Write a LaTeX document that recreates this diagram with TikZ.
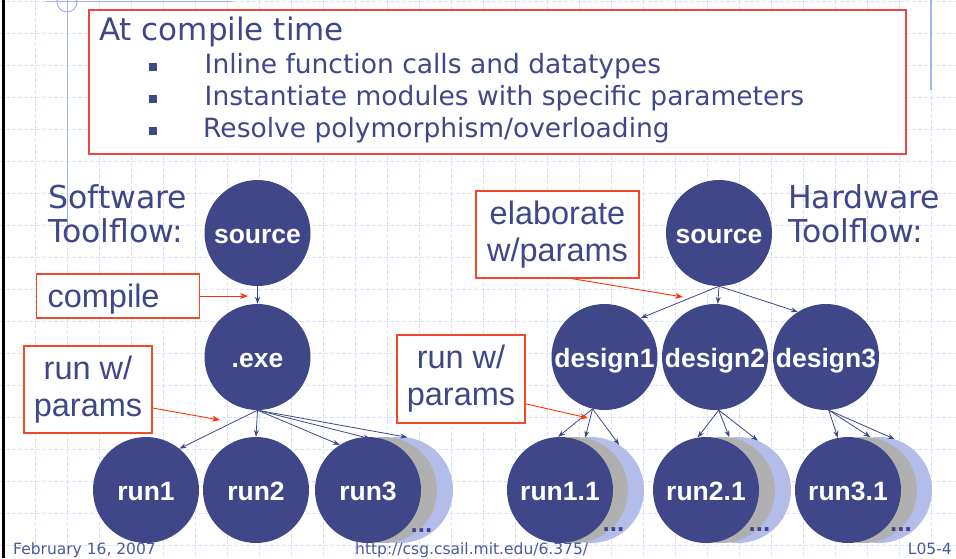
\documentclass[tikz,border=0pt]{standalone}
\usepackage{fontspec}
\setmainfont{DejaVu Sans}
\newfontfamily\circfont{Liberation Sans}
\usetikzlibrary{arrows.meta}
\definecolor{dblue}{HTML}{404789}
\definecolor{gridc}{HTML}{DAE1F9}
\definecolor{lineb}{HTML}{A3B3F2}
\definecolor{boxred}{HTML}{EE4646}
\definecolor{lblred}{HTML}{F04A2A}
\definecolor{arrred}{HTML}{FF3300}
\definecolor{shgray}{HTML}{B0B0B0}
\definecolor{shblue}{HTML}{B4BDEA}
\definecolor{foot}{HTML}{4A5A98}
\tikzset{
  gridline/.style={draw=gridc, line width=0.9pt, dash pattern=on 4pt off 2pt},
  circ/.style={circle, fill=dblue, minimum size=106pt, inner sep=0pt, text=white,
    font=\circfont\bfseries\fontsize{26.5}{30}\selectfont, text height=20pt, text depth=0pt},
  shg/.style={circle, fill=shgray, minimum size=106pt, inner sep=0pt},
  shb/.style={circle, fill=shblue, minimum size=106pt, inner sep=0pt},
  dotsty/.style={anchor=base, inner sep=0pt, text=dblue, font=\circfont\bfseries\fontsize{26}{30}\selectfont},
  flow/.style={draw=dblue, line width=0.8pt, -{Stealth[length=7pt,width=5pt]}},
  lbl/.style={draw=lblred, line width=1.2pt, fill=white, text=dblue,
    font=\circfont\fontsize{32.5}{37}\selectfont, align=center, inner sep=0pt},
  redarr/.style={draw=arrred, line width=0.9pt, -{Stealth[length=8pt,width=6pt]}},
  big/.style={anchor=base west, inner sep=0pt, text=dblue, font=\fontsize{31.5}{37}\selectfont},
  mid/.style={anchor=base west, inner sep=0pt, text=dblue, font=\fontsize{26.5}{31}\selectfont},
  bulletbox/.style={rectangle, fill=dblue, minimum size=8pt, inner sep=0pt},
  footer/.style={inner sep=0pt, text=foot, font=\fontsize{15.5}{18}\selectfont}
}
\begin{document}
\begin{tikzpicture}[x=1pt,y=-1pt]
\useasboundingbox (0,0) rectangle (956,558);
\fill[white] (0,0) rectangle (956,558);
% background grid
\foreach \x in {3,35,...,955} \draw[gridline] (\x,0) -- (\x,558);
\foreach \y in {1,33,...,557} \draw[gridline] (0,\y) -- (956,\y);
% slide decorations
\draw[black, line width=3pt] (3,0) -- (3,558);
\draw[lineb, line width=1pt] (67,0) -- (67,235);
\draw[lineb, line width=1pt] (46,1) -- (233,1);
\draw[lineb, line width=1pt] (67,2) circle (10pt);
\draw[lineb, line width=2pt] (931,0) -- (931,90);

% top box
\node[draw=boxred, line width=1.7pt, fill=white, minimum width=817pt, minimum height=144pt,
  inner sep=0pt, anchor=north west] (topbox) at (88,9) {};
\node[big, font=\fontsize{31}{37}\selectfont] (t0) at (99,40) {At compile time};
\node[bulletbox] (b1) at (152.5,67) {};
\node[bulletbox] (b2) at (152.5,99) {};
\node[bulletbox] (b3) at (152.5,131) {};
\node[mid] (t1) at (204.5,73) {Inline function calls and datatypes};
\node[mid] (t2) at (204.5,105) {Instantiate modules with specific parameters};
\node[mid] (t3) at (203,137) {Resolve polymorphism/overloading};

% side titles
\node[big] (sw1) at (48,208) {Software};
\node[big] (sw2) at (48,242) {Toolflow:};
\node[big] (hw1) at (788,208) {Hardware};
\node[big] (hw2) at (788,242) {Toolflow:};

% software flow
\node[circ] (src1) at (257.5,233) {source};
\node[circ] (exe) at (257.5,357) {.exe};
\node[circ] (run1) at (146,490) {run1};
\node[circ] (run2) at (256,490) {run2};
\node[shb] (run3c) at (400,490) {};
\node[shg] (run3b) at (384,490) {};
\node[circ] (run3) at (368,490) {run3};
\node[dotsty] (dots3) at (421.5,532) {...};

% hardware flow
\node[circ] (src2) at (719,233) {source};
\node[circ] (d1) at (604.5,357) {design1};
\node[circ] (d2) at (715,357) {design2};
\node[circ] (d3) at (826,357) {design3};
\node[shb] (r11c) at (591,490) {};
\node[shg] (r11b) at (575,490) {};
\node[circ] (r11) at (560,490) {run1.1};
\node[dotsty] (dots11) at (613.5,531) {...};
\node[shb] (r21c) at (738,490) {};
\node[shg] (r21b) at (722,490) {};
\node[circ] (r21) at (706,490) {run2.1};
\node[dotsty] (dots21) at (759.5,531) {...};
\node[shb] (r31c) at (879,490) {};
\node[shg] (r31b) at (864,490) {};
\node[circ] (r31) at (848,490) {run3.1};
\node[dotsty] (dots31) at (901,531) {...};

% flow arrows
\draw[flow] (src1.south) -- (exe.north);
\draw[flow] (exe.south) -- (run1.51);
\draw[flow] (exe.south) -- (run2.north);
\draw[flow] (exe.south) -- (run3.122);
\draw[flow] (exe.south) -- (run3b.105);
\draw[flow] (exe.south) -- (run3c.82);
\draw[flow] (src2.south) -- (d1.47);
\draw[flow] (src2.south) -- (d2.87);
\draw[flow] (src2.south) -- (d3.122);
\draw[flow] (d1.257) -- (r11.92);
\draw[flow] (d1.257) -- (r11b.79);
\draw[flow] (d1.257) -- (r11c.58);
\draw[flow] (d2.274) -- (r21.99);
\draw[flow] (d2.274) -- (r21b.82);
\draw[flow] (d2.274) -- (r21c.68);
\draw[flow] (d3.273) -- (r31.101);
\draw[flow] (d3.273) -- (r31b.83);
\draw[flow] (d3.273) -- (r31c.73);

% label boxes
\node[lbl, minimum width=163pt, minimum height=44pt, text width=141pt, align=left,
  text height=23pt, text depth=1pt, anchor=west] (comp) at (36,296) {compile};
\node[lbl, minimum width=128pt, minimum height=87pt] (runL) at (88,389.5) {run w/\\params};
\node[lbl, minimum width=128pt, minimum height=88pt] (runR) at (461,379) {run w/\\params};
\node[lbl, minimum width=163pt, minimum height=87pt] (elab) at (557.5,234.5) {elaborate\\w/params};
\coordinate (compTip) at (248,296);
\coordinate (runLTip) at (220,420);
\coordinate (runRTip) at (588,418);
\coordinate (elabTip) at (683,297);
\draw[redarr] (comp.east) -- (compTip);
\draw[redarr] (runL.-16) -- (runLTip);
\draw[redarr] (runR.-21) -- (runRTip);
\draw[redarr] (elab.-72) -- (elabTip);

% footer
\node[footer, anchor=base west] (date) at (13,554) {February 16, 2007};
\node[footer, anchor=base west] (url) at (355,554) {http://csg.csail.mit.edu/6.375/};
\node[footer, anchor=base east] (pg) at (952,554) {L05-4};
\end{tikzpicture}
\end{document}
